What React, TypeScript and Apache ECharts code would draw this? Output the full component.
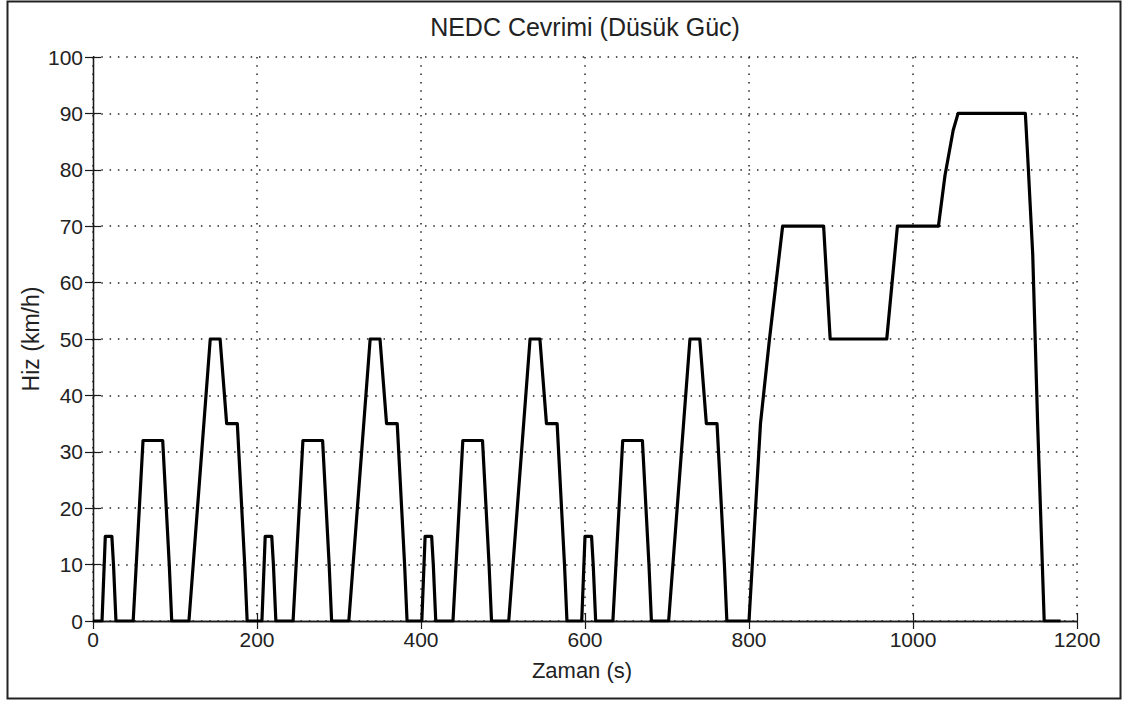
import React, { useEffect, useRef } from "react";
import * as echarts from "echarts";

// NEDC speed profile (low-power variant): four ECE-15 urban blocks followed by the EUDC.
const timeS: number[] = [
  0, 11, 15, 23, 25, 28, 49, 61, 85, 93, 96, 117, 143, 155, 163, 176, 185, 188,
  195, 206, 210, 218, 220, 223, 244, 256, 280, 288, 291, 312, 338, 350, 358, 371, 380, 383,
  390, 401, 405, 413, 415, 418, 439, 451, 475, 483, 486, 507, 533, 545, 553, 566, 575, 578,
  585, 596, 600, 608, 610, 613, 634, 646, 670, 678, 681, 702, 728, 740, 748, 761, 770, 773,
  780, 800, 806, 814, 825, 841, 891, 899, 968, 981, 1031, 1039, 1049, 1055, 1137, 1140, 1146, 1152, 1160, 1180,
];
const speedKmh: number[] = [
  0, 0, 15, 15, 10, 0, 0, 32, 32, 10, 0, 0, 50, 50, 35, 35, 10, 0,
  0, 0, 15, 15, 10, 0, 0, 32, 32, 10, 0, 0, 50, 50, 35, 35, 10, 0,
  0, 0, 15, 15, 10, 0, 0, 32, 32, 10, 0, 0, 50, 50, 35, 35, 10, 0,
  0, 0, 15, 15, 10, 0, 0, 32, 32, 10, 0, 0, 50, 50, 35, 35, 10, 0,
  0, 0, 15, 35, 50, 70, 70, 50, 50, 70, 70, 79, 87, 90, 90, 82, 65, 35, 0, 0,
];

const xRange = { min: 0, max: 1200, interval: 200 };
const yRange = { min: 0, max: 100, interval: 10 };

const titleText = "NEDC Cevrimi (Düsük Güc)";
const xName = "Zaman (s)";
const yName = "Hiz (km/h)";

const FONT = "'Liberation Sans', Arial, Helvetica, sans-serif";
const INK = "#1a1a1a";

export default function App() {
  const ref = useRef<HTMLDivElement>(null);

  useEffect(() => {
    if (!ref.current) return;
    const chart = echarts.init(ref.current, undefined, { renderer: "svg" });

    const points = timeS.map((t, i) => [t, speedKmh[i]]);

    const tick = { show: true, inside: true, length: 8, lineStyle: { color: INK, width: 1.2 } };
    const axisLine = { show: true, lineStyle: { color: INK, width: 1.3 } };
    const dotted = {
      show: true,
      lineStyle: { color: "#222", width: 1.5, type: [1.5, 6.8] as number[] },
    };
    const label = {
      color: "#222",
      fontSize: 21,
      fontFamily: FONT,
      formatter: (v: number) => String(v),
    };

    chart.setOption({
      animation: false,
      backgroundColor: "#ffffff",
      grid: { left: 93, top: 57, width: 984, height: 564, containLabel: false },
      xAxis: [
        {
          type: "value",
          position: "bottom",
          ...xRange,
          axisLine,
          axisTick: tick,
          axisLabel: { ...label, margin: 8 },
          splitLine: dotted,
        },
        {
          type: "value",
          position: "top",
          ...xRange,
          axisLine,
          axisTick: tick,
          axisLabel: { show: false },
          splitLine: { show: false },
        },
      ],
      yAxis: [
        {
          type: "value",
          position: "left",
          ...yRange,
          axisLine,
          axisTick: tick,
          axisLabel: { ...label, margin: 10 },
          splitLine: dotted,
        },
        {
          type: "value",
          position: "right",
          ...yRange,
          axisLine,
          axisTick: tick,
          axisLabel: { show: false },
          splitLine: { show: false },
        },
      ],
      series: [
        {
          type: "line",
          xAxisIndex: 0,
          yAxisIndex: 0,
          data: points,
          showSymbol: false,
          symbol: "none",
          lineStyle: { color: "#000", width: 3.2, join: "round" },
          z: 5,
        },
      ],
      graphic: [
        {
          type: "rect",
          shape: { x: 7.5, y: 1.5, width: 1113, height: 697 },
          style: { fill: "none", stroke: "#222", lineWidth: 2 },
          silent: true,
        },
        {
          type: "text",
          x: 585,
          y: 27,
          style: {
            text: titleText,
            font: `25px ${FONT}`,
            fill: "#222",
            textAlign: "center",
            textVerticalAlign: "middle",
          },
        },
        {
          type: "text",
          x: 582,
          y: 670,
          style: {
            text: xName,
            font: `22px ${FONT}`,
            fill: "#222",
            textAlign: "center",
            textVerticalAlign: "middle",
          },
        },
        {
          type: "text",
          x: 31,
          y: 339,
          rotation: Math.PI / 2,
          style: {
            text: yName,
            font: `23px ${FONT}`,
            fill: "#222",
            textAlign: "center",
            textVerticalAlign: "middle",
          },
        },
      ],
    });

    return () => chart.dispose();
  }, []);

  return (
    <div
      ref={ref}
      style={{ position: "fixed", left: 0, top: 0, width: 1123, height: 702, background: "#fff" }}
    />
  );
}
